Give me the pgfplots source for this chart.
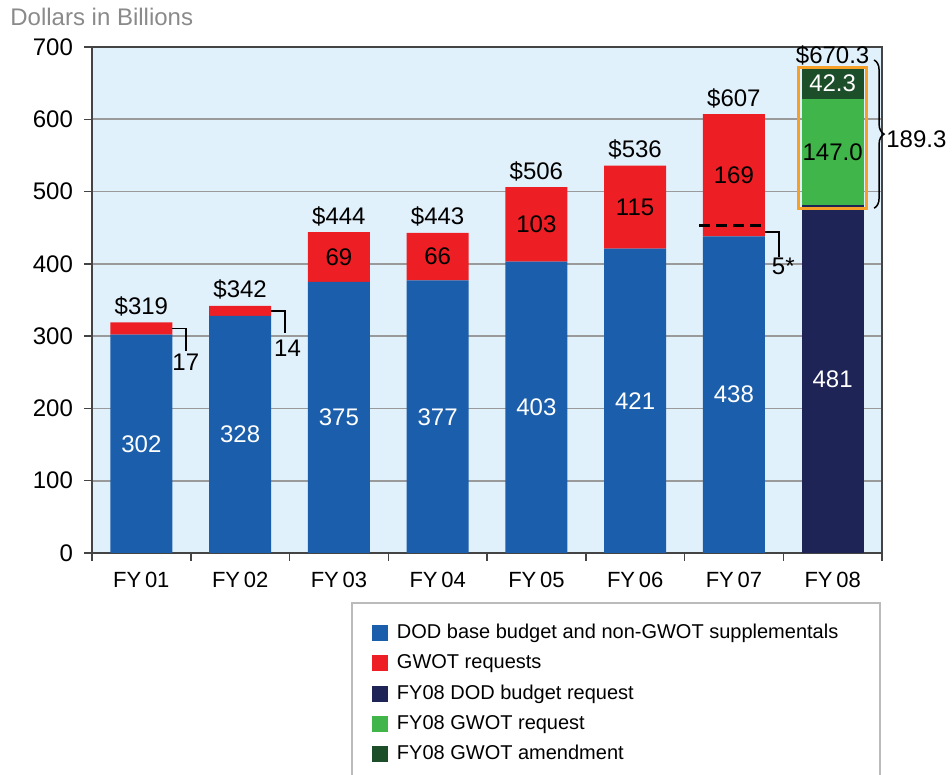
\documentclass[border=0pt]{standalone}
\usepackage{pgfplots}
\pgfplotsset{compat=1.18}
\usepackage{fontspec}
\setmainfont{Liberation Sans}
\usetikzlibrary{decorations.pathreplacing}
\definecolor{bgblue}{HTML}{E1F1FB}
\definecolor{cblue}{HTML}{1B5EAB}
\definecolor{cred}{HTML}{ED1F24}
\definecolor{cnavy}{HTML}{1E2556}
\definecolor{cgreen}{HTML}{40B549}
\definecolor{cdgreen}{HTML}{1C4E2A}
\definecolor{corange}{HTML}{F6A02A}
\definecolor{gridgray}{HTML}{9A9A9A}
\definecolor{axisgray}{HTML}{444444}
\definecolor{leggray}{HTML}{BBBBBB}
\definecolor{titlegray}{HTML}{8A8A8A}
\tikzset{lbl/.style={font=\fontsize{12}{14}\selectfont, inner sep=0pt}}
\pgfplotsset{frame/.style={at={(0pt,0pt)}, anchor=south west,
  scale only axis, width=395pt, height=253pt,
  xmin=-0.5, xmax=7.5, ymin=0, ymax=700, clip=false}}
\begin{document}
\begin{tikzpicture}
\useasboundingbox (-46pt,-111pt) rectangle (430pt,276.5pt);
\begin{axis}[
  frame,
  ybar stacked, bar width=31pt,
  xtick={-0.5,0.5,1.5,2.5,3.5,4.5,5.5,6.5,7.5},
  x tick label as interval,
  xticklabels={FY\,01,FY\,02,FY\,03,FY\,04,FY\,05,FY\,06,FY\,07,FY\,08},
  ytick={0,100,...,700},
  xtick pos=bottom, ytick pos=left,
  tick align=outside, major tick length=4pt,
  ymajorgrids, grid style={color=gridgray, line width=0.85pt},
  axis line style={color=axisgray, line width=0.75pt},
  tick style={color=axisgray, line width=0.75pt},
  axis background/.style={fill=bgblue},
  yticklabel style={font=\fontsize{12}{14}\selectfont, xshift=-2pt},
  xticklabel style={font=\fontsize{11}{13}\selectfont, yshift=-2pt},
  /pgf/number format/assume math mode=true,
  legend image code/.code={\fill[#1] (0pt,-4pt) rectangle (8pt,4pt);},
  legend cell align=left,
  legend style={draw=none, fill=none, inner sep=0pt, outer sep=0pt,
    anchor=north west, at={(0.3544,-0.1334)},
    font=\fontsize{10}{12}\selectfont, row sep=2.5pt, column sep=2.5pt},
]
\addplot[fill=cblue, draw=none] coordinates {(0,302) (1,328) (2,375) (3,377) (4,403) (5,421) (6,438) (7,0)};
\addplot[fill=cred, draw=none] coordinates {(0,17) (1,14) (2,69) (3,66) (4,103) (5,115) (6,169) (7,0)};
\addplot[fill=cnavy, draw=none] coordinates {(0,0) (1,0) (2,0) (3,0) (4,0) (5,0) (6,0) (7,481)};
\addplot[fill=cgreen, draw=none] coordinates {(0,0) (1,0) (2,0) (3,0) (4,0) (5,0) (6,0) (7,147.0)};
\addplot[fill=cdgreen, draw=none] coordinates {(0,0) (1,0) (2,0) (3,0) (4,0) (5,0) (6,0) (7,42.3)};
\legend{DOD base budget and non-GWOT supplementals, GWOT requests, FY08 DOD budget request, FY08 GWOT request, FY08 GWOT amendment}
\end{axis}
\begin{axis}[frame, hide axis]
\node[lbl, white] at (axis cs:0,151) {302};
\node[lbl, white] at (axis cs:1,164) {328};
\node[lbl, white] at (axis cs:2,187.5) {375};
\node[lbl, white] at (axis cs:3,188.5) {377};
\node[lbl, white] at (axis cs:4,201.5) {403};
\node[lbl, white] at (axis cs:5,210.5) {421};
\node[lbl, white] at (axis cs:6,219) {438};
\node[lbl, white] at (axis cs:7,240.5) {481};
\node[lbl] at (axis cs:2,409.5) {69};
\node[lbl] at (axis cs:3,410) {66};
\node[lbl] at (axis cs:4,454.5) {103};
\node[lbl] at (axis cs:5,478.5) {115};
\node[lbl] at (axis cs:6,522.5) {169};
\node[lbl] at (axis cs:7,554.5) {147.0};
\node[lbl, white] at (axis cs:7,649.2) {42.3};
\node[lbl, anchor=base] at (axis cs:0,330) {\$319};
\node[lbl, anchor=base] at (axis cs:1,353) {\$342};
\node[lbl, anchor=base] at (axis cs:2,455) {\$444};
\node[lbl, anchor=base] at (axis cs:3,454) {\$443};
\node[lbl, anchor=base] at (axis cs:4,517) {\$506};
\node[lbl, anchor=base] at (axis cs:5,547) {\$536};
\node[lbl, anchor=base] at (axis cs:6,618) {\$607};
\node[lbl, anchor=base] at (axis cs:7,677) {\$670.3};
\node[lbl] at (axis cs:0.45,264) {17};
\node[lbl] at (axis cs:1.48,283.5) {14};
\node[lbl] at (axis cs:6.5,396) {5*};
\node[lbl, anchor=west] at (axis cs:7.54,573) {189.3};
\draw[black, line width=0.75pt] (axis cs:0.314,310.5) -- (axis cs:0.452,310.5) -- (axis cs:0.452,279);
\draw[black, line width=0.75pt] (axis cs:1.314,335) -- (axis cs:1.454,335) -- (axis cs:1.454,305);
\draw[black, line width=0.75pt] (axis cs:6.314,444) -- (axis cs:6.457,444) -- (axis cs:6.457,409);
\draw[black, line width=1.5pt, dash pattern=on 5.5pt off 3pt] (axis cs:5.647,453) -- (axis cs:6.335,453);
\draw[corange, line width=1.5pt] (axis cs:6.652,476) rectangle (axis cs:7.348,672);
\draw[black, line width=0.75pt, decorate, decoration={brace, amplitude=5pt}] (axis cs:7.42,682) -- (axis cs:7.42,477);
\end{axis}
\node[anchor=base west, inner sep=0pt, text=titlegray, font=\fontsize{12}{14}\selectfont] at (-41pt,263.5pt) {Dollars in Billions};
\draw[leggray, line width=0.75pt] (130pt,-25pt) rectangle (394pt,-130pt);
\end{tikzpicture}
\end{document}
